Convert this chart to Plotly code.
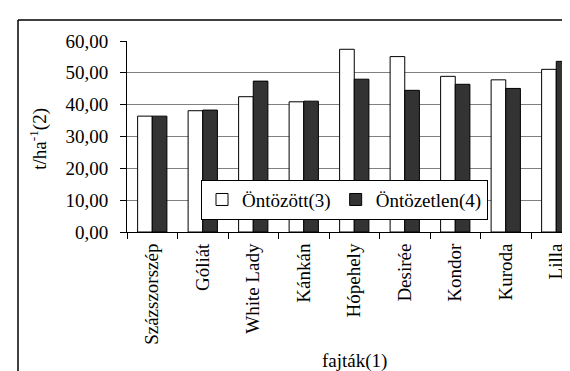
import plotly.graph_objects as go

categories = ["Százszorszép", "Góliát", "White Lady", "Kánkán", "Hópehely",
              "Desirée", "Kondor", "Kuroda", "Lilla"]
irrigated = [36.4, 38.1, 42.5, 40.9, 57.4, 55.1, 48.9, 47.8, 51.1]
non_irrigated = [36.4, 38.3, 47.4, 41.1, 48.0, 44.5, 46.4, 45.1, 53.6]
y_ticks = [0, 10, 20, 30, 40, 50, 60]
x_title = "fajták(1)"
y_title = "t/ha<sup>-1</sup>(2)"

W, H = 570, 371
ML, MR, MT, MB = 119, 0, 33, 146.5
PW = W - ML - MR
PH = H - MT - MB
FONT = "Liberation Serif"

def px_x(px):
    return (px - ML) / PW

def px_y(py):
    return (H - MB - py) / PH

fig = go.Figure()
fig.add_trace(go.Bar(name="Öntözött(3)", x=categories, y=irrigated,
                     marker=dict(color="white", line=dict(color="black", width=1))))
fig.add_trace(go.Bar(name="Öntözetlen(4)", x=categories, y=non_irrigated,
                     marker=dict(color="#333333", line=dict(color="black", width=1))))

fig.update_layout(
    width=W, height=H,
    margin=dict(l=ML, r=MR, t=MT, b=MB, pad=0),
    paper_bgcolor="white", plot_bgcolor="white",
    separators=", ",
    font=dict(family=FONT, size=19, color="black"),
    barmode="group", bargap=0.42, bargroupgap=0,
    showlegend=True,
    legend=dict(orientation="h", x=px_x(193), y=px_y(172),
                xanchor="left", yanchor="top",
                bgcolor="white", bordercolor="black", borderwidth=1,
                font=dict(family=FONT, size=19), itemwidth=30,
                tracegroupgap=0),
    xaxis=dict(range=[-0.5, 8.5 - 3.5 / 50.4], tickangle=-90,
               ticks="outside", tickson="boundaries", ticklen=6,
               tickcolor="black", showline=True, linecolor="black",
               linewidth=1, showgrid=False, ticklabelstandoff=3,
               tickfont=dict(family=FONT, size=19)),
    yaxis=dict(range=[0, 60], tickvals=y_ticks, tickformat=".2f",
               ticks="outside", ticklen=6, tickcolor="black",
               showline=True, linecolor="black", linewidth=1,
               showgrid=True, gridcolor="#808080", gridwidth=1,
               zeroline=False, ticklabelstandoff=8,
               tickfont=dict(family=FONT, size=19)),
)

fig.add_annotation(text=x_title, xref="paper", yref="paper",
                   x=px_x(346), y=px_y(354), xanchor="center", yanchor="middle",
                   borderpad=0, showarrow=False, font=dict(family=FONT, size=19))
fig.add_annotation(text=y_title, xref="paper", yref="paper",
                   x=px_x(31), y=px_y(131), xanchor="center", yanchor="middle",
                   borderpad=0, textangle=-90, showarrow=False,
                   font=dict(family=FONT, size=19))

# outer chart frame (top and left edges visible)
fig.add_shape(type="line", xref="paper", yref="paper",
              x0=px_x(10), x1=px_x(W + 5), y0=px_y(12), y1=px_y(12),
              line=dict(color="black", width=1.5))
fig.add_shape(type="line", xref="paper", yref="paper",
              x0=px_x(10), x1=px_x(10), y0=px_y(12), y1=px_y(H + 5),
              line=dict(color="black", width=1.5))

fig.write_html("out.html")
